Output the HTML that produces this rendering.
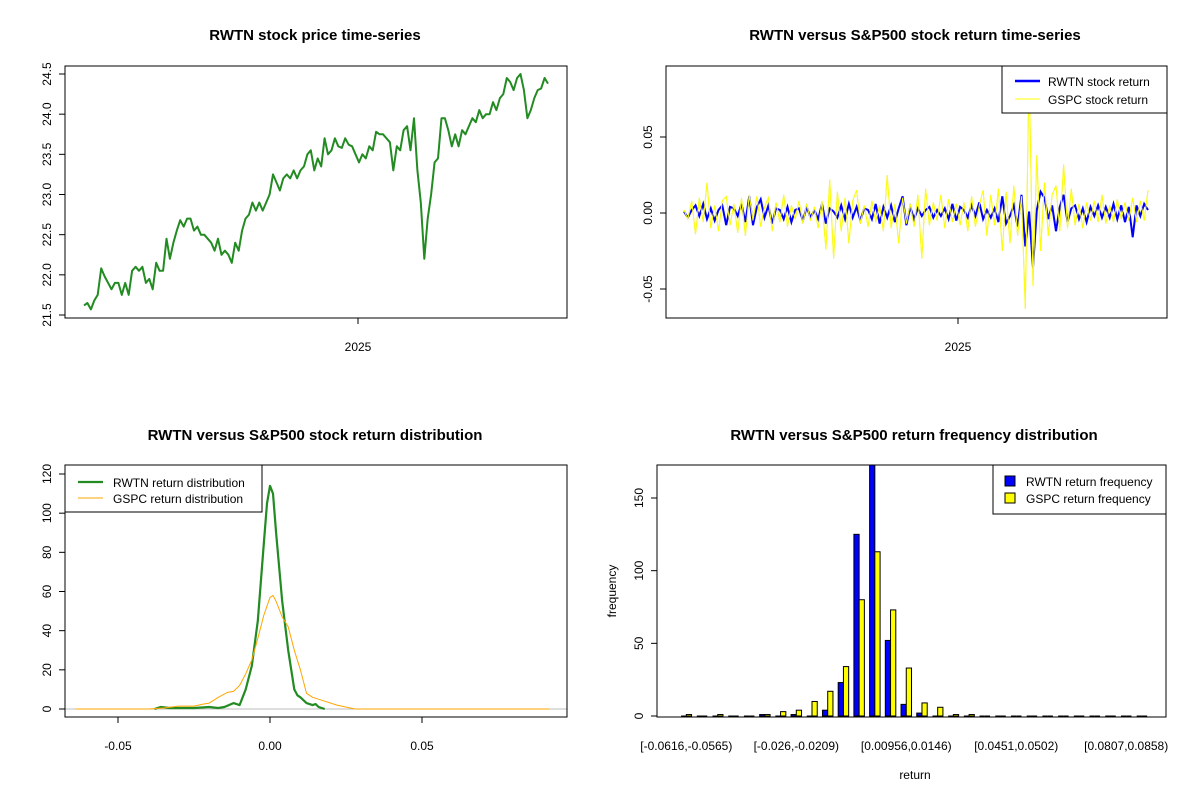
<!DOCTYPE html>
<html><head><meta charset="utf-8"><style>
html,body{margin:0;padding:0;background:#fff;}
svg{display:block;font-family:"Liberation Sans",Arial,sans-serif;}
</style></head><body>
<svg id="c" width="1200" height="800" viewBox="0 0 1200 800"></svg>
<script>
// ---- data ----
const priceSeries=[21.62,21.65,21.57,21.68,21.75,22.08,21.98,21.9,21.82,21.9,21.9,21.75,21.9,21.75,22.05,22.1,22.05,22.1,21.9,21.95,21.82,22.15,22.05,22.05,22.45,22.2,22.4,22.55,22.68,22.6,22.7,22.7,22.55,22.6,22.5,22.5,22.45,22.4,22.3,22.45,22.25,22.3,22.25,22.15,22.4,22.3,22.55,22.7,22.75,22.9,22.8,22.9,22.8,22.9,23.0,23.25,23.15,23.05,23.2,23.25,23.2,23.3,23.2,23.3,23.35,23.5,23.55,23.3,23.45,23.35,23.7,23.5,23.55,23.7,23.6,23.58,23.7,23.62,23.6,23.5,23.4,23.5,23.45,23.6,23.55,23.78,23.75,23.75,23.7,23.65,23.3,23.6,23.55,23.8,23.85,23.55,23.95,23.3,22.9,22.2,22.7,23.0,23.4,23.45,23.95,23.95,23.8,23.6,23.75,23.6,23.8,23.75,23.85,23.95,23.9,24.05,23.95,24.0,24.0,24.15,24.05,24.2,24.25,24.45,24.4,24.3,24.45,24.5,24.3,23.95,24.05,24.2,24.3,24.32,24.45,24.38];
const priceTicks=[21.5,22.0,22.5,23.0,23.5,24.0,24.5];
const rwtnReturns=[0.001,-0.003,0.002,0.005,-0.002,0.006,-0.004,0.003,-0.005,0.002,0.005,-0.008,0.004,0.003,-0.002,0.006,-0.006,0.011,-0.008,0.004,0.009,-0.003,0.005,-0.007,0.003,0.002,-0.004,0.004,-0.006,0.002,0.003,-0.005,0.004,-0.003,0.002,-0.004,0.006,-0.007,0.003,0.001,-0.003,0.005,-0.004,0.006,-0.003,0.004,-0.005,0.003,0.002,-0.004,0.006,-0.007,0.004,-0.003,0.005,-0.006,0.003,0.011,-0.008,0.004,-0.004,0.003,-0.002,0.002,0.004,-0.003,0.002,-0.002,0.003,-0.004,0.006,-0.005,0.004,0.002,-0.003,0.005,-0.002,0.007,-0.004,0.002,-0.003,0.003,-0.006,0.011,-0.007,-0.002,0.005,-0.009,0.012,-0.022,0.001,-0.036,0.002,0.014,0.01,-0.004,0.005,-0.012,0.004,0.012,-0.006,0.003,0.005,-0.004,0.003,-0.006,0.004,-0.002,0.005,-0.003,0.004,-0.003,0.006,-0.004,0.005,-0.006,0.004,-0.016,0.005,-0.002,0.006,0.002];
const gspcReturns=[0.002,-0.004,0.008,-0.014,0.01,-0.006,0.02,-0.01,0.005,-0.012,0.008,0.011,-0.008,0.006,-0.013,0.01,-0.015,0.012,-0.005,0.011,-0.009,0.004,0.01,-0.012,0.007,-0.006,0.012,-0.009,0.005,-0.004,0.008,-0.007,0.006,-0.005,0.004,-0.01,0.008,-0.024,0.022,-0.03,0.014,-0.012,0.01,-0.02,0.008,0.015,-0.007,0.005,-0.009,0.008,-0.006,0.005,-0.012,0.025,-0.01,0.006,-0.02,0.01,-0.007,0.006,-0.009,0.012,-0.03,0.016,-0.008,0.007,-0.005,0.012,-0.01,0.009,-0.006,0.006,-0.008,0.007,-0.012,0.011,-0.009,0.005,0.015,-0.015,0.012,-0.008,0.016,-0.025,0.014,-0.02,0.018,-0.015,0.011,-0.063,0.095,-0.048,0.038,-0.025,0.02,-0.015,0.012,0.018,-0.012,0.032,-0.01,0.016,-0.008,0.006,-0.01,0.007,-0.005,0.008,-0.006,0.012,-0.007,0.005,-0.006,0.009,-0.004,0.007,-0.005,0.01,-0.006,0.008,-0.005,0.015];
const returnTicks=[-0.05,0.00,0.05];
const returnTickLabels=["-0.05","0.00","0.05"];
const rwtnDensX=[-0.038,-0.036,-0.033,-0.03,-0.025,-0.02,-0.017,-0.015,-0.012,-0.01,-0.008,-0.006,-0.004,-0.002,-0.001,0,0.001,0.002,0.004,0.006,0.008,0.009,0.010,0.012,0.014,0.015,0.016,0.018];
const rwtnDensY=[0,1,0.5,0.5,0.5,1,0.5,1,3,2,10,22,45,85,105,114,110,90,55,30,10,7,6,3,2,2.5,1,0];
const gspcDensX=[-0.064,-0.04,-0.035,-0.03,-0.025,-0.022,-0.02,-0.017,-0.014,-0.012,-0.01,-0.008,-0.006,-0.004,-0.002,0,0.001,0.002,0.004,0.006,0.008,0.010,0.012,0.014,0.018,0.022,0.028,0.035,0.092];
const gspcDensY=[0,0,0.5,1.5,1.5,2.5,3,6,8.5,9,12,18,25,36,48,57,58,55,47,42,30,20,8,6,4,2,0,0,0];
const densXTicks=[-0.05,0.00,0.05];
const densXTickLabels=["-0.05","0.00","0.05"];
const densYTicks=[0,20,40,60,80,100,120];
const histRwtn=[0,0,0,0,0,1,0,1,0,4,23,125,173,52,8,2,0,0,0,0,0,0,0,0,0,0,0,0,0,0];
const histGspc=[1,0,1,0,0,1,3,4,10,17,34,80,113,73,33,9,6,1,1,0,0,0,0,0,0,0,0,0,0,0];
const histLabels=["[-0.0616,-0.0565)","[-0.026,-0.0209)","[0.00956,0.0146)","[0.0451,0.0502)","[0.0807,0.0858)"];
const histLabelBins=[0,7,14,21,28];
const histYTicks=[0,50,100,150];

const NS="http://www.w3.org/2000/svg";
const svg=document.getElementById('c');
function mk(tag,attrs,parent){const e=document.createElementNS(NS,tag);for(const k in attrs)e.setAttribute(k,attrs[k]);(parent||svg).appendChild(e);return e;}
function txt(s,x,y,opts,parent){const e=mk('text',Object.assign({x:x,y:y,'font-size':12,'text-anchor':'middle',fill:'#000'},opts||{}),parent);e.textContent=s;return e;}
function lin(d0,d1,r0,r1){return v=>r0+(v-d0)/(d1-d0)*(r1-r0);}
function box(x0,y0,x1,y1,name){const r=mk('rect',{x:x0,y:y0,width:x1-x0,height:y1-y0,fill:'none',stroke:'#000','stroke-width':1});}
function ytick(x0,y,label,name){const l=mk('line',{x1:x0,x2:x0-6,y1:y,y2:y,stroke:'#000'});const t=txt(label,x0-14,y,{transform:'rotate(-90 '+(x0-14)+' '+y+')'});}
function xtick(x,y0,label,name,ly){const l=mk('line',{x1:x,x2:x,y1:y0,y2:y0+6,stroke:'#000'});const t=txt(label,x,ly||y0+28);}
function title(s,x,y,name){const t=txt(s,x,y,{'font-size':15,'font-weight':'bold'});}
function poly(xs,ys,fx,fy,attrs,name){const p=xs.map((v,i)=>fx(v).toFixed(1)+','+fy(ys[i]).toFixed(1)).join(' ');const e=mk('polyline',Object.assign({points:p,fill:'none'},attrs));return e;}

// ---- panel 1: price ----
(function(){
 const X0=65,X1=567,Y0=66,Y1=318;
 title('RWTN stock price time-series',315,40,'price-chart-title');
 const fy=lin(21.5,24.5,315,74);
 const fx=lin(0,priceSeries.length-1,84,548);
 poly(priceSeries.map((v,i)=>i),priceSeries,fx,fy,{stroke:'#228B22','stroke-width':2,'stroke-linejoin':'round'},'price-line');
 box(X0,Y0,X1,Y1,'price-plot-frame');
 priceTicks.forEach(v=>ytick(X0,fy(v),v.toFixed(1),'price-y'));
 xtick(358,Y1,'2025','price-x-2025',351);
})();

// ---- panel 2: returns ----
(function(){
 const X0=666,X1=1167,Y0=66,Y1=318;
 title('RWTN versus S&P500 stock return time-series',915,40,'return-ts-title');
 const fy=lin(0,0.05,213,137);
 const fg=lin(0,gspcReturns.length-1,684,1148);
 const fr=lin(0,rwtnReturns.length-1,684,1148);
 const cp=mk('clipPath',{id:'cp2'});mk('rect',{x:X0,y:Y0,width:X1-X0,height:Y1-Y0},cp);
 const g=mk('g',{'clip-path':'url(#cp2)'});
 
 
 const gl=poly(gspcReturns.map((v,i)=>i),gspcReturns,fg,fy,{stroke:'#D8D8D8','stroke-width':1},'gspc-return-gray-line');g.appendChild(gl);
 const rl=poly(rwtnReturns.map((v,i)=>i),rwtnReturns,fr,fy,{stroke:'#0000FF','stroke-width':2},'rwtn-return-line');g.appendChild(rl);
 const yl=poly(gspcReturns.map((v,i)=>i),gspcReturns,fg,fy,{stroke:'#FFFF00','stroke-width':1},'gspc-return-line');g.appendChild(yl);
 box(X0,Y0,X1,Y1,'return-ts-frame');
 returnTicks.forEach((v,i)=>ytick(X0,fy(v),returnTickLabels[i],'return-y'));
 xtick(958,Y1,'2025','return-x-2025',351);
 const lg=mk('rect',{x:1002,y:Y0,width:X1-1002,height:47,fill:'#fff',stroke:'#000'});
 const l1=mk('line',{x1:1015,x2:1040,y1:81,y2:81,stroke:'#0000FF','stroke-width':2.5});
 const t1=txt('RWTN stock return',1048,86,{'text-anchor':'start'});
 const l2=mk('line',{x1:1015,x2:1040,y1:99,y2:99,stroke:'#FFFF00','stroke-width':1});
 const t2=txt('GSPC stock return',1048,104,{'text-anchor':'start'});
})();

// ---- panel 3: density ----
(function(){
 const X0=65,X1=567,Y0=465,Y1=717;
 title('RWTN versus S&P500 stock return distribution',315,440,'density-title');
 const fx=lin(0,0.05,270,422);
 const fy=lin(0,120,709,474);
 const gl=mk('line',{x1:X0,x2:X1,y1:fy(0),y2:fy(0),stroke:'#BEBEBE','stroke-width':1});
 poly(rwtnDensX,rwtnDensY,fx,fy,{stroke:'#228B22','stroke-width':2.2,'stroke-linejoin':'round'},'rwtn-density-line');
 poly(gspcDensX,gspcDensY,fx,fy,{stroke:'#FFA500','stroke-width':1,'stroke-linejoin':'round'},'gspc-density-line');
 box(X0,Y0,X1,Y1,'density-frame');
 densYTicks.forEach(v=>ytick(X0,fy(v),String(v),'density-y'));
 densXTicks.forEach((v,i)=>xtick(fx(v),Y1,densXTickLabels[i],'density-x',750));
 const lg=mk('rect',{x:X0,y:Y0,width:197,height:47,fill:'#fff',stroke:'#000'});
 const l1=mk('line',{x1:78,x2:103,y1:482,y2:482,stroke:'#228B22','stroke-width':2.2});
 const t1=txt('RWTN return distribution',113,487,{'text-anchor':'start'});
 const l2=mk('line',{x1:78,x2:103,y1:498,y2:498,stroke:'#FFA500','stroke-width':1});
 const t2=txt('GSPC return distribution',113,503,{'text-anchor':'start'});
})();

// ---- panel 4: histogram ----
(function(){
 const X0=657,X1=1166,Y0=465,Y1=717;
 title('RWTN versus S&P500 return frequency distribution',914,440,'hist-title');
 const n=histRwtn.length, tot=3*n;
 const fx=lin(-0.04*tot,tot*1.04,X0,X1);
 const fy=lin(0,150,716,498);
 const cp=mk('clipPath',{id:'cp4'});mk('rect',{x:X0,y:Y0,width:X1-X0,height:Y1-Y0},cp);
 const g=mk('g',{'clip-path':'url(#cp4)'});
 
 
 function bar(x0,x1,v,fill,name){
  let e;
  if(v===0){e=mk('line',{x1:x0,x2:x1,y1:fy(0),y2:fy(0),stroke:'#000','stroke-width':1},g);}
  else{e=mk('rect',{x:x0,y:fy(v),width:x1-x0,height:fy(0)-fy(v),fill:fill,stroke:'#000','stroke-width':1},g);}
  
  
 }
 histRwtn.forEach((v,i)=>{
  const a=fx(3*i+1),b=fx(3*i+2),c=fx(3*i+3);
  bar(a,b,v,'#0000FF','bar-rwtn-'+i);
  bar(b,c,histGspc[i],'#FFFF00','bar-gspc-'+i);
 });
 box(X0,Y0,X1,Y1,'hist-frame');
 histYTicks.forEach(v=>ytick(X0,fy(v),String(v),'hist-y'));
 histLabelBins.forEach((bi,k)=>{const t=txt(histLabels[k],fx(3*bi+2),750);});
 const xl=txt('return',915,779);
 const yl=txt('frequency',616,591,{transform:'rotate(-90 616 591)'});
 const lg=mk('rect',{x:993,y:Y0,width:X1-993,height:49,fill:'#fff',stroke:'#000'});
 const s1=mk('rect',{x:1005,y:476,width:10,height:10,fill:'#0000FF',stroke:'#000'});
 const t1=txt('RWTN return frequency',1026,486,{'text-anchor':'start'});
 const s2=mk('rect',{x:1005,y:493,width:10,height:10,fill:'#FFFF00',stroke:'#000'});
 const t2=txt('GSPC return frequency',1026,503,{'text-anchor':'start'});
})();
</script>
</body></html>
